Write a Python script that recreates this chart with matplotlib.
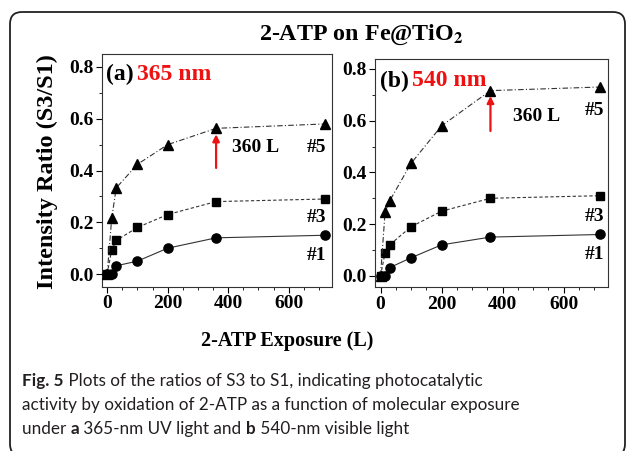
import matplotlib
matplotlib.use("Agg")
import matplotlib.pyplot as plt
from matplotlib.patches import FancyBboxPatch

# exposure (L)
exposure = [0, 15, 30, 100, 200, 360, 720]

# panel (a) 365 nm
a_s1 = [0.0, 0.0, 0.032, 0.05, 0.10, 0.14, 0.15]
a_s3 = [0.0, 0.093, 0.13, 0.18, 0.23, 0.28, 0.29]
a_s5 = [0.0, 0.215, 0.333, 0.424, 0.50, 0.563, 0.58]

# panel (b) 540 nm
b_s1 = [0.0, 0.0, 0.032, 0.07, 0.12, 0.15, 0.16]
b_s3 = [0.0, 0.09, 0.12, 0.19, 0.25, 0.30, 0.31]
b_s5 = [0.0, 0.247, 0.29, 0.435, 0.58, 0.716, 0.73]

series_labels = ["#1", "#3", "#5"]
panel_tags = ["(a)", "(b)"]
wavelengths = ["365 nm", "540 nm"]

SERIF = "Liberation Serif"
CAPTION_FONT = "Lato"
plt.rcParams["mathtext.fontset"] = "stix"

fig = plt.figure(figsize=(6.29, 4.51), dpi=100)

# rounded frame round the figure (runs off the bottom edge)
frame = FancyBboxPatch((0.10, -0.05), 6.15, 4.44,
                       boxstyle="round,pad=0,rounding_size=0.12",
                       transform=fig.dpi_scale_trans, fill=False,
                       edgecolor="#222222", linewidth=1.3)
fig.patches.append(frame)

ax_a = fig.add_axes([0.1617, 0.3636, 0.3666, 0.516])
ax_b = fig.add_axes([0.5962, 0.363, 0.370, 0.5055])

panels = [
    (ax_a, [a_s1, a_s3, a_s5], (-0.050, 0.849),
     dict(lab_y=[0.073, 0.22, 0.49], lab_x=691, note=(414, 0.49),
          arrow=(0.41, 0.54), tag_y=0.915, wl_x=0.152)),
    (ax_b, [b_s1, b_s3, b_s5], (-0.044, 0.837),
     dict(lab_y=[0.081, 0.228, 0.64], lab_x=700, note=(435, 0.615),
          arrow=(0.56, 0.695), tag_y=0.905, wl_x=0.16)),
]

styles = [
    dict(marker="o", linestyle="-", ms=6.6),
    dict(marker="s", linestyle=(0, (3, 2)), ms=6.3),
    dict(marker="^", linestyle=(0, (5, 2, 1, 2)), ms=7.8),
]

for i, (ax, series, ylim, ann) in enumerate(panels):
    for vals, st in zip(series, styles):
        ax.plot(exposure, vals, color="#333333", linewidth=0.8,
                linestyle=st["linestyle"], marker=st["marker"],
                markersize=st["ms"], markerfacecolor="black",
                markeredgecolor="black", zorder=3)
    ax.set_xlim(-18, 744)
    ax.set_ylim(*ylim)
    ax.set_xticks([0, 200, 400, 600])
    ax.set_xticks(range(0, 750, 50), minor=True)
    ax.set_yticks([0.0, 0.2, 0.4, 0.6, 0.8])
    ax.set_yticks([0.1, 0.3, 0.5, 0.7], minor=True)
    ax.set_yticklabels(["0.0", "0.2", "0.4", "0.6", "0.8"])
    ax.tick_params(which="major", direction="out", length=4, width=0.8,
                   labelsize=14, top=False, right=False, pad=2)
    ax.tick_params(which="minor", direction="out", length=2, width=0.6,
                   top=False, right=False)
    for lab in ax.get_xticklabels() + ax.get_yticklabels():
        lab.set_fontfamily(SERIF)
        lab.set_fontweight("bold")
    for sp in ax.spines.values():
        sp.set_linewidth(0.8)
        sp.set_color("#333333")

    # panel tag and wavelength
    ax.text(0.02, ann["tag_y"], panel_tags[i], transform=ax.transAxes,
            fontfamily=SERIF, fontweight="bold", fontsize=17, va="center")
    ax.text(ann["wl_x"], ann["tag_y"], wavelengths[i], transform=ax.transAxes,
            fontfamily=SERIF, fontweight="bold", fontsize=17,
            color="#ee1111", va="center")

    # series labels
    for lab, ly in zip(series_labels, ann["lab_y"]):
        ax.text(ann["lab_x"], ly, lab, fontfamily=SERIF, fontweight="bold",
                fontsize=14, ha="center", va="center")

    # 360 L marker
    ax.text(ann["note"][0], ann["note"][1], "360 L", fontfamily=SERIF,
            fontweight="bold", fontsize=14, va="center")
    ax.annotate("", xy=(360, ann["arrow"][1]), xytext=(360, ann["arrow"][0]),
                arrowprops=dict(arrowstyle="-|>", color="#ee1111", lw=1.6,
                                mutation_scale=10, shrinkA=0, shrinkB=0))

fig.text(0.574, 0.922, r"2-ATP on Fe@TiO$_\mathbf{2}$", fontfamily=SERIF,
         fontweight="bold", fontsize=17.3, ha="center", va="center")
fig.text(0.075, 0.62, "Intensity Ratio (S3/S1)", fontfamily=SERIF,
         fontweight="bold", fontsize=17.5, rotation=90, ha="center", va="center")
fig.text(0.457, 0.244, "2-ATP Exposure (L)", fontfamily=SERIF,
         fontweight="bold", fontsize=14.5, ha="center", va="center")

# caption, drawn piece by piece so bold parts can sit inline
caption = [
    [("Fig. 5", True), (" Plots of the ratios of S3 to S1, indicating photocatalytic", False)],
    [("activity by oxidation of 2-ATP as a function of molecular exposure", False)],
    [("under ", False), ("a", True), (" 365-nm UV light and ", False), ("b", True),
     (" 540-nm visible light", False)],
]
renderer = fig.canvas.get_renderer()
line_y = [381, 405, 429]
for segs, py in zip(caption, line_y):
    x = 22
    for txt, bold in segs:
        t = fig.text(x / 629, 1 - py / 451, txt, fontfamily=CAPTION_FONT,
                     fontweight="bold" if bold else "normal", fontsize=12.3,
                     color="#231f20", va="center", ha="left")
        bb = t.get_window_extent(renderer=renderer)
        x += bb.width

fig.savefig("out.png", dpi=100)
